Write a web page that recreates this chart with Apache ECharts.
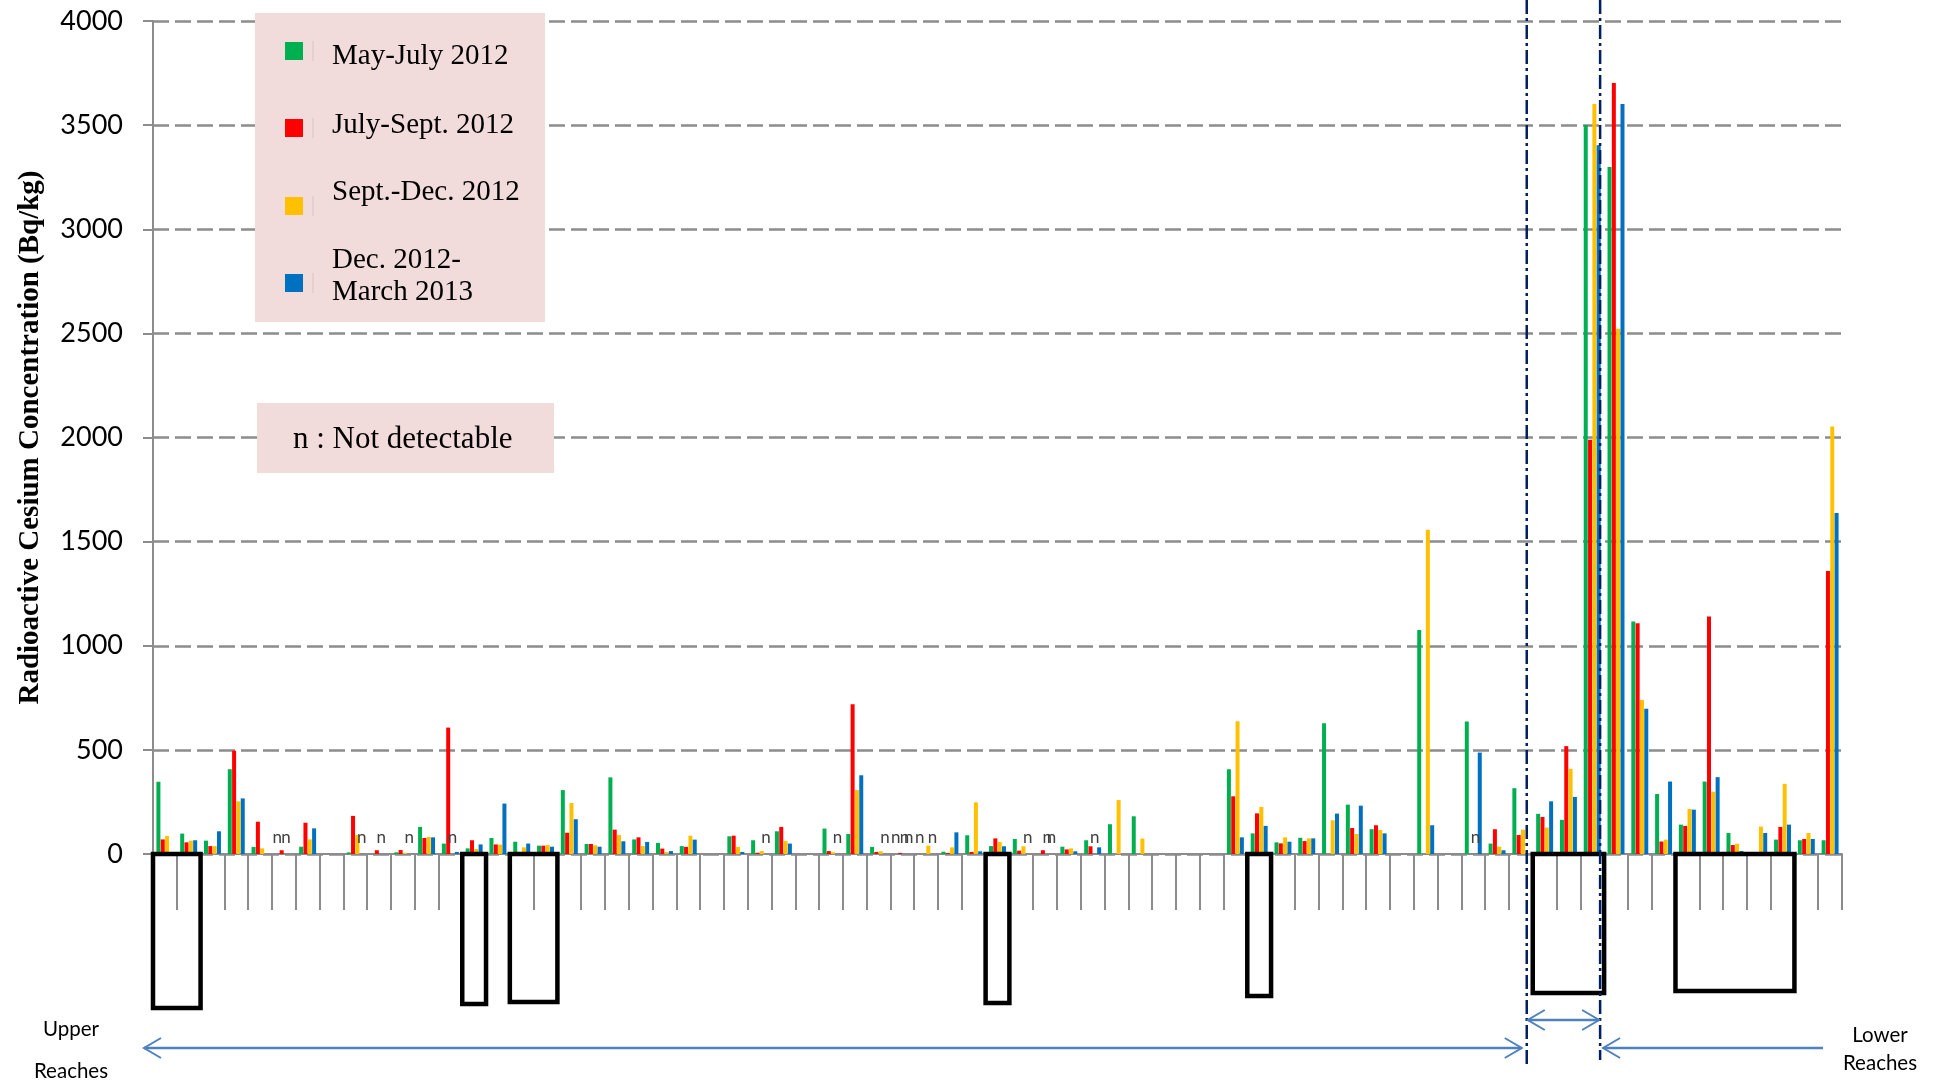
<!DOCTYPE html>
<html>
<head>
<meta charset="utf-8">
<script src="https://cdn.jsdelivr.net/npm/echarts@6/dist/echarts.min.js"></script>
<style>
html, body { margin: 0; padding: 0; background: #fff; }
#main { width: 1937px; height: 1084px; }
</style>
</head>
<body>
<div id="main"></div>
<script>
// sampling sites along the river, upstream -> downstream (labels too small to read in the source)
var sites = [];
for (var k = 1; k <= 71; k++) sites.push('Site ' + k);

var seriesNames = ['May-July 2012', 'July-Sept. 2012', 'Sept.-Dec. 2012', 'Dec. 2012-\nMarch 2013'];
var seriesColors = ['#00B050', '#FF0000', '#FFC000', '#0070C0'];

// 'n' = not detectable
var mayJuly = [347, 98, 64, 407, 34, 'n', 35, 0, 8, 0, 8, 130, 50, 27, 77, 59, 40, 307, 48, 368,
  70, 53, 38, 0, 85, 66, 109, 0, 122, 96, 34, 'n', 'n', 11, 90, 38, 72, 0, 35, 66,
  143, 181, 0, 0, 0, 407, 99, 56, 78, 628, 237, 119, 0, 1076, 0, 636, 50, 316, 193, 164,
  3501, 3299, 1117, 288, 141, 348, 101, 0, 69, 66, 66];
var julySept = [70, 56, 38, 496, 155, 18, 150, 0, 183, 18, 19, 77, 607, 66, 46, 0, 40, 102, 48, 117,
  80, 26, 34, 0, 88, 6, 130, 0, 14, 719, 10, 5, 0, 5, 10, 75, 16, 18, 22, 37,
  0, 0, 0, 0, 0, 277, 195, 51, 62, 0, 125, 138, 0, 0, 0, 0, 119, 91, 178, 518,
  1989, 3702, 1108, 60, 135, 1140, 43, 0, 130, 72, 1359];
var septDec = [86, 64, 38, 253, 27, 'n', 70, 0, 91, 'n', 6, 82, 'n', 24, 45, 32, 43, 245, 42, 91,
  38, 10, 88, 0, 34, 14, 62, 0, 8, 307, 13, 'n', 40, 32, 248, 58, 37, 'n', 27, 'n',
  259, 74, 0, 0, 0, 637, 226, 80, 75, 162, 96, 115, 0, 1557, 0, 'n', 35, 117, 127, 409,
  3602, 2522, 740, 69, 216, 299, 49, 132, 337, 101, 2053];
var decMarch = [0, 66, 109, 267, 0, 0, 123, 0, 'n', 0, 'n', 80, 10, 46, 242, 50, 35, 167, 35, 61,
  58, 14, 69, 0, 10, 'n', 50, 0, 'n', 378, 'n', 'n', 'n', 104, 13, 37, 'n', 'n', 13, 32,
  0, 0, 0, 0, 0, 80, 135, 59, 75, 194, 232, 99, 0, 138, 0, 487, 18, 0, 253, 274,
  3403, 3602, 697, 348, 213, 369, 14, 101, 141, 72, 1638];

var yTicks = [0, 500, 1000, 1500, 2000, 2500, 3000, 3500, 4000];

// highlighted site groups (first, last category index) and box bottoms
var boxSpans = [[0, 1], [13, 13], [15, 16], [35, 35], [46, 46], [58, 60], [64, 68]];
var boxBottoms = [1008, 1004, 1002, 1003, 996, 993, 991];

var chart = echarts.init(document.getElementById('main'));

function toBarData(arr) {
  return arr.map(function (v) {
    return v === 'n' ? { value: 0, label: { show: true } } : v;
  });
}

var allValues = [mayJuly, julySept, septDec, decMarch];
var series = allValues.map(function (arr, i) {
  return {
    name: seriesNames[i],
    type: 'bar',
    data: toBarData(arr),
    barWidth: 4,
    barGap: '8%',
    itemStyle: { color: seriesColors[i] },
    label: {
      show: false, position: 'top', distance: 8, formatter: 'n',
      fontSize: 17, fontFamily: 'Lato', color: '#404040'
    }
  };
});

chart.setOption({
  animation: false,
  grid: { left: 153, right: 95, top: 21, bottom: 230 },
  xAxis: {
    type: 'category',
    data: sites,
    axisLine: { lineStyle: { color: '#8c8c8c', width: 2 } },
    axisTick: { show: true, interval: 0, length: 56, lineStyle: { color: '#8c8c8c', width: 2 } },
    axisLabel: { show: false }
  },
  yAxis: {
    type: 'value',
    min: yTicks[0],
    max: yTicks[yTicks.length - 1],
    interval: 500,
    name: 'Radioactive Cesium Concentration (Bq/kg)',
    nameLocation: 'middle',
    nameGap: 108,
    nameTextStyle: { fontFamily: 'Liberation Serif', fontWeight: 'bold', fontSize: 29, color: '#000' },
    axisLine: { show: true, lineStyle: { color: '#8c8c8c', width: 2 } },
    axisTick: { show: true, length: 10, lineStyle: { color: '#8c8c8c', width: 2 } },
    axisLabel: {
      fontFamily: 'Lato', fontSize: 27, color: '#000', margin: 30,
      formatter: function (v) { return String(v); }
    },
    splitLine: { lineStyle: { color: '#8c8c8c', width: 2.5, type: [16, 6] } }
  },
  series: series
});

// annotations placed from the category axis
function cx(i) { return chart.convertToPixel({ xAxisIndex: 0 }, i); }
var band = cx(1) - cx(0);
function leftEdge(i) { return cx(i) - band / 2; }

var baseY = chart.convertToPixel({ yAxisIndex: 0 }, 0);
var g = [];

// legend box
g.push({ type: 'rect', shape: { x: 255, y: 13, width: 290, height: 309 }, style: { fill: '#F2DCDB' }, z: 10 });
var keyY = [51, 128, 206, 283];
var textY = [56, 125, 192, 276];
for (var i = 0; i < 4; i++) {
  g.push({ type: 'rect', shape: { x: 285, y: keyY[i] - 9, width: 18, height: 18 }, style: { fill: seriesColors[i] }, z: 11 });
  g.push({ type: 'line', shape: { x1: 313, y1: keyY[i] - 10, x2: 313, y2: keyY[i] + 10 }, style: { stroke: '#d9c4c4', lineWidth: 1 }, z: 11 });
  g.push({
    type: 'text', x: 332, y: textY[i], z: 11,
    style: { text: seriesNames[i], fontFamily: 'Liberation Serif', fontSize: 29, lineHeight: 32, fill: '#000', align: 'left', verticalAlign: 'middle' }
  });
}
// note box
g.push({ type: 'rect', shape: { x: 257, y: 403, width: 297, height: 70 }, style: { fill: '#F2DCDB' }, z: 10 });
g.push({
  type: 'text', x: 293, y: 440, z: 11,
  style: { text: 'n : Not detectable', fontFamily: 'Liberation Serif', fontSize: 31, fill: '#000', align: 'left', verticalAlign: 'middle' }
});

// black boxes under the axis
boxSpans.forEach(function (s, j) {
  var x0 = leftEdge(s[0]);
  var x1 = leftEdge(s[1]) + band;
  g.push({
    type: 'rect', shape: { x: x0, y: baseY, width: x1 - x0, height: boxBottoms[j] - baseY },
    style: { fill: 'none', stroke: '#000', lineWidth: 4.5 }, z: 12
  });
});

// dash-dot separators
var sep1 = leftEdge(58) - 6;
var sep2 = leftEdge(61) - 4;
[[sep1, 1067], [sep2, 1060]].forEach(function (d) {
  g.push({
    type: 'line', shape: { x1: d[0], y1: 0, x2: d[0], y2: d[1] },
    style: { stroke: '#002060', lineWidth: 2.5, lineDash: [14, 4, 3, 4] }, z: 13
  });
});

// arrows
var arrowColor = '#4F81BD';
function shaft(x1, x2, y) {
  g.push({ type: 'line', shape: { x1: x1, y1: y, x2: x2, y2: y }, style: { stroke: arrowColor, lineWidth: 2.5 }, z: 13 });
}
function head(x, y, dir) {
  g.push({
    type: 'polyline', shape: { points: [[x + 17 * dir, y - 10], [x, y], [x + 17 * dir, y + 10]] },
    style: { stroke: arrowColor, lineWidth: 2, fill: 'none' }, z: 13
  });
}
shaft(144, sep1 - 5, 1048); head(144, 1048, 1); head(sep1 - 5, 1048, -1);
shaft(sep1 + 1, sep2 - 1, 1020); head(sep1 + 1, 1020, 1); head(sep2 - 1, 1020, -1);
shaft(sep2 + 3, 1823, 1048); head(sep2 + 3, 1048, 1);

function label(t, x, y) {
  g.push({ type: 'text', x: x, y: y, style: { text: t, fontFamily: 'Lato', fontSize: 20.5, fill: '#000', align: 'center', verticalAlign: 'middle' } });
}
label('Upper', 71, 1029);
label('Reaches', 71, 1071);
label('Lower', 1880, 1035);
label('Reaches', 1880, 1063);

chart.setOption({ graphic: g });
</script>
</body>
</html>
